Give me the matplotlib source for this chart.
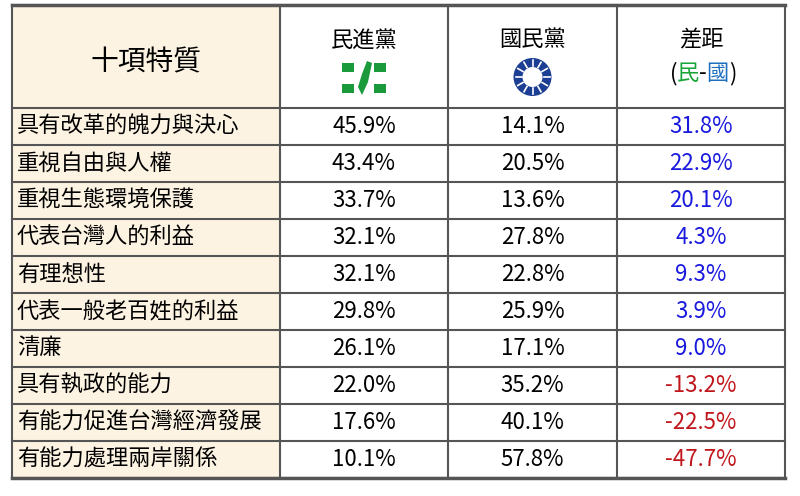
import matplotlib
matplotlib.use("Agg")
import matplotlib.pyplot as plt
from matplotlib import font_manager as fm
from matplotlib.patches import Rectangle, Circle, Polygon
import numpy as np

traits = ["具有改革的魄力與決心", "重視自由與人權", "重視生態環境保護", "代表台灣人的利益", "有理想性",
          "代表一般老百姓的利益", "清廉", "具有執政的能力", "有能力促進台灣經濟發展", "有能力處理兩岸關係"]
dpp = [45.9, 43.4, 33.7, 32.1, 32.1, 29.8, 26.1, 22.0, 17.6, 10.1]
kmt = [14.1, 20.5, 13.6, 27.8, 22.8, 25.9, 17.1, 35.2, 40.1, 57.8]
diff = [31.8, 22.9, 20.1, 4.3, 9.3, 3.9, 9.0, -13.2, -22.5, -47.7]

cjk = [f for f in fm.findSystemFonts() if "CJK" in f]
if cjk:
    cjk.sort(key=lambda f: (("Regular" not in f), f))
    fm.fontManager.addfont(cjk[0])
    plt.rcParams["font.family"] = fm.FontProperties(fname=cjk[0]).get_name()

fig = plt.figure(figsize=(8, 4.96), dpi=100)
ax = fig.add_axes([0, 0, 1, 1])
ax.set_xlim(0, 800); ax.set_ylim(496, 0); ax.axis("off")

xs = [12, 280, 448, 617, 785]
y0, yh, rh = 5, 108, 37
beige = "#fdf3e2"
ax.add_patch(Rectangle((xs[0], y0), xs[1]-xs[0], yh-y0, fc=beige, ec="none"))
for i in range(len(traits)):
    ax.add_patch(Rectangle((xs[0], yh+i*rh), xs[1]-xs[0], rh, fc=beige, ec="none"))
ybot = yh + rh*len(traits)
lc = "#555555"
for x in xs:
    ax.plot([x, x], [y0, ybot], color=lc, lw=1.5)
for y in [y0, yh] + [yh+i*rh for i in range(1, len(traits)+1)]:
    ax.plot([xs[0], xs[-1]], [y, y], color=lc, lw=1.5)
ax.plot([xs[0], xs[-1]], [y0, y0], color=lc, lw=2.5)
ax.plot([xs[0], xs[-1]], [ybot, ybot], color=lc, lw=2.5)

fs = 16
ax.text((xs[0]+xs[1])/2, 62, "十項特質", ha="center", va="center", fontsize=20)
ax.text((xs[1]+xs[2])/2, 40, "民進黨", ha="center", va="center", fontsize=fs)
ax.text((xs[2]+xs[3])/2, 40, "國民黨", ha="center", va="center", fontsize=fs)
ax.text((xs[3]+xs[4])/2, 40, "差距", ha="center", va="center", fontsize=fs)
cx = (xs[3]+xs[4])/2
ax.text(cx-24, 74, "(", ha="right", va="center", fontsize=fs)
ax.text(cx-13, 74, "民", ha="center", va="center", fontsize=fs, color="#1aa53a")
ax.text(cx+1.5, 74, "-", ha="center", va="center", fontsize=fs)
ax.text(cx+16, 74, "國", ha="center", va="center", fontsize=fs, color="#1f6fc1")
ax.text(cx+28, 74, ")", ha="left", va="center", fontsize=fs)

g = "#1a9a3a"
dx = (xs[1]+xs[2])/2
for (a, b) in [(-22, 63), (10, 63), (-22, 84), (10, 84)]:
    ax.add_patch(Rectangle((dx+a, b), 12, 9, fc=g, ec="none"))
ax.add_patch(Polygon([(dx+3, 61), (dx+8, 63), (dx+4, 82), (dx-2, 95), (dx-6, 87), (dx-2, 74)], fc=g, ec="none"))
kx, ky = (xs[2]+xs[3])/2, 77
ax.add_patch(Circle((kx, ky), 19, fc="#1c3f94", ec="none"))
ax.add_patch(Circle((kx, ky), 10, fc="white", ec="none"))
for t in np.linspace(0, 2*np.pi, 12, endpoint=False):
    ax.plot([kx+11*np.cos(t), kx+17*np.cos(t)], [ky+11*np.sin(t), ky+17*np.sin(t)], color="white", lw=1.2)

for i, t in enumerate(traits):
    yc = yh + rh*i + rh/2
    ax.text(xs[0]+5, yc, t, ha="left", va="center", fontsize=fs)
    ax.text((xs[1]+xs[2])/2, yc, f"{dpp[i]:.1f}%", ha="center", va="center", fontsize=fs)
    ax.text((xs[2]+xs[3])/2, yc, f"{kmt[i]:.1f}%", ha="center", va="center", fontsize=fs)
    col = "#1a1adf" if diff[i] >= 0 else "#c0161c"
    ax.text((xs[3]+xs[4])/2, yc, f"{diff[i]:.1f}%", ha="center", va="center", fontsize=fs, color=col)

fig.savefig("out.png", dpi=100, facecolor="white")
